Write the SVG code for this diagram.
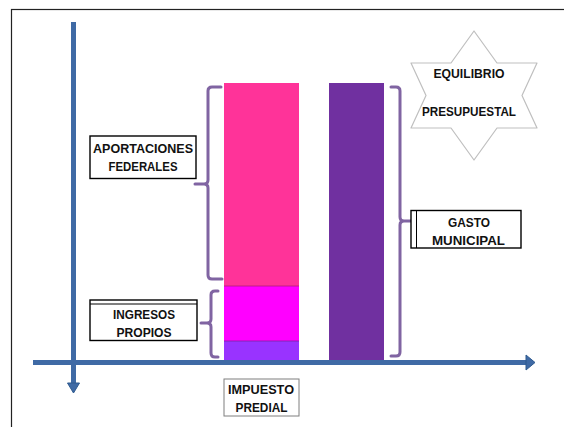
<svg xmlns="http://www.w3.org/2000/svg" width="564" height="427" viewBox="0 0 564 427">
<style>
.lbl{font-family:"Liberation Sans",Arial,sans-serif;font-weight:bold;font-size:13.5px;fill:#111;text-anchor:middle}
.box{fill:#fff;stroke:#000;stroke-width:1.4}
.brace{fill:none;stroke:#8064A2;stroke-width:3;stroke-linejoin:round;stroke-linecap:round}
.axis{stroke:#3F6AA5;stroke-width:5}
.head{fill:#3F6AA5;stroke:#2E5A8F;stroke-width:1}
</style>
<rect x="0" y="0" width="564" height="427" fill="#fff"/>
<rect x="11.5" y="9.5" width="560" height="430" fill="none" stroke="#222" stroke-width="1.2"/>

<g id="bar-ingresos">
<rect x="224" y="83" width="75" height="203" fill="#FF3399"/>
<rect x="224" y="286" width="75" height="55" fill="#FF00FF"/>
<rect x="224" y="341" width="75" height="19" fill="#9933FF"/>
<line x1="224" y1="286" x2="299" y2="286" stroke="#B0207A" stroke-width="0.8"/>
<line x1="224" y1="341" x2="299" y2="341" stroke="#8020A0" stroke-width="0.8"/>
</g>
<g id="bar-gasto">
<rect x="329" y="83" width="55" height="277" fill="#7030A0"/>
</g>

<g id="connectors">
<line class="axis" x1="73.5" y1="22" x2="73.5" y2="384"/>
<polygon class="head" points="67.5,383 79.5,383 73.5,393"/>
<line class="axis" x1="33" y1="362.5" x2="527" y2="362.5"/>
<polygon class="head" points="526,355 535,362.5 526,370"/>
<path class="brace" d="M221,87 H212 Q208,87 208,91 V180 Q208,184 204,184 H195 M204,184 Q208,184 208,188 V275 Q208,279 212,279 H222"/>
<path class="brace" d="M218,291 H215 Q211,291 211,295 V319 Q211,323 207,323 H201 M207,323 Q211,323 211,327 V353 Q211,357 215,357 H218"/>
<path class="brace" d="M391,87 H396 Q400,87 400,91 V217 Q400,221 404,221 H412 M404,221 Q400,221 400,225 V352 Q400,356 396,356 H391"/>
</g>

<g id="aportaciones">
<rect class="box" x="90" y="136" width="106" height="42.5"/>
<text class="lbl" x="143" y="152.7" textLength="100" lengthAdjust="spacingAndGlyphs">APORTACIONES</text>
<text class="lbl" x="143" y="170.5" textLength="69" lengthAdjust="spacingAndGlyphs">FEDERALES</text>
</g>
<g id="ingresos">
<rect class="box" x="90" y="300" width="107" height="40.5"/>
<line x1="90" y1="304" x2="197" y2="304" stroke="#000" stroke-width="1"/>
<text class="lbl" x="144" y="319" textLength="62" lengthAdjust="spacingAndGlyphs">INGRESOS</text>
<text class="lbl" x="144" y="337" textLength="55" lengthAdjust="spacingAndGlyphs">PROPIOS</text>
</g>
<g id="impuesto">
<rect x="224" y="379" width="75" height="37" fill="#fff" stroke="#7f7f7f" stroke-width="1"/>
<text class="lbl" x="261" y="393.5" textLength="66" lengthAdjust="spacingAndGlyphs">IMPUESTO</text>
<text class="lbl" x="261.5" y="412" textLength="52" lengthAdjust="spacingAndGlyphs">PREDIAL</text>
</g>
<g id="gasto">
<rect class="box" x="411" y="210.5" width="110" height="37.5"/>
<line x1="416.5" y1="210.5" x2="416.5" y2="248" stroke="#000" stroke-width="1"/>
<text class="lbl" x="469" y="226.7" textLength="42" lengthAdjust="spacingAndGlyphs">GASTO</text>
<text class="lbl" x="468.5" y="245" textLength="73" lengthAdjust="spacingAndGlyphs">MUNICIPAL</text>
</g>
<g id="equilibrio">
<polygon points="474,31 497,63 537,63 522,95.5 537,128 497,128 474,160 451,128 411,128 426,95.5 411,63 451,63" fill="#fff" stroke="#BFBFBF" stroke-width="1.2" stroke-linejoin="round"/>
<text class="lbl" x="469" y="78" textLength="71" lengthAdjust="spacingAndGlyphs">EQUILIBRIO</text>
<text class="lbl" x="469" y="115.5" textLength="94" lengthAdjust="spacingAndGlyphs">PRESUPUESTAL</text>
</g>
</svg>
